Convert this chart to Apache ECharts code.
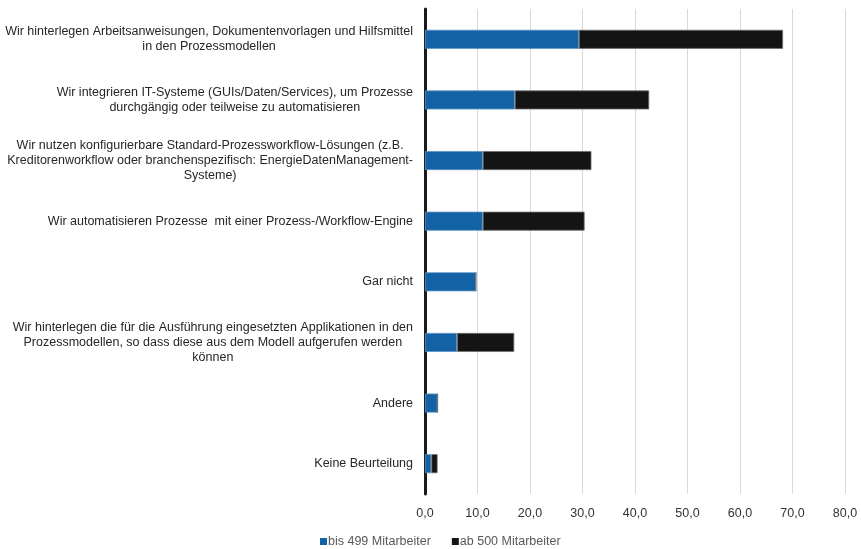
<!DOCTYPE html>
<html>
<head>
<meta charset="utf-8">
<script src="https://cdn.jsdelivr.net/npm/echarts@6/dist/echarts.min.js"></script>
<style>
  html, body { margin: 0; padding: 0; background: #fff; }
  #chart { width: 861px; height: 549px; }
</style>
</head>
<body>
<div id="chart"></div>
<script>
// Antwortkategorien (von oben nach unten)
const categories = [
  'Wir hinterlegen Arbeitsanweisungen, Dokumentenvorlagen und Hilfsmittel\nin den Prozessmodellen',
  'Wir integrieren IT-Systeme (GUIs/Daten/Services), um Prozesse\ndurchgängig oder teilweise zu automatisieren',
  'Wir nutzen konfigurierbare Standard-Prozessworkflow-Lösungen (z.B.\nKreditorenworkflow oder branchenspezifisch: EnergieDatenManagement-\nSysteme)',
  'Wir automatisieren Prozesse  mit einer Prozess-/Workflow-Engine',
  'Gar nicht',
  'Wir hinterlegen die für die Ausführung eingesetzten Applikationen in den\nProzessmodellen, so dass diese aus dem Modell aufgerufen werden\nkönnen',
  'Andere',
  'Keine Beurteilung'
];

const seriesNames = ['bis 499 Mitarbeiter', 'ab 500 Mitarbeiter'];

// Anteile in Prozent
const small = [29.3, 17.1, 11.0, 11.0, 9.7, 6.1, 2.4, 1.2];
const large = [38.9, 25.6, 20.7, 19.4, 0.0, 10.9, 0.0, 1.2];

const axisMin = 0;
const axisMax = 80;
const axisStep = 10;

const chart = echarts.init(document.getElementById('chart'), null, { renderer: 'canvas' });

// Mehrzeilige Beschriftungen: Block rechtsbündig, Zeilen zentriert
function labelFormatter(value) {
  return value.split('\n').map(function (line) { return '{c|' + line + '}'; }).join('\n');
}

chart.setOption({
  animation: false,
  backgroundColor: '#ffffff',
  textStyle: { fontFamily: '"Liberation Sans", Arial, sans-serif' },
  grid: { left: 425, right: 16, top: 9, bottom: 55, containLabel: false },
  legend: {
    data: seriesNames,
    bottom: -4,
    left: 315,
    icon: 'rect',
    itemWidth: 7,
    itemHeight: 7,
    itemGap: 21,
    itemStyle: { borderWidth: 0 },
    textStyle: { color: '#595959', fontSize: 12.5, padding: [0, 0, 0, -4] }
  },
  xAxis: {
    type: 'value',
    min: axisMin,
    max: axisMax,
    interval: axisStep,
    axisLine: { show: false },
    axisTick: { show: false },
    splitLine: { show: true, lineStyle: { color: '#d9d9d9', width: 1 } },
    axisLabel: {
      color: '#333333',
      fontSize: 12.5,
      margin: 13,
      formatter: function (v) { return v.toFixed(1).replace('.', ','); }
    }
  },
  yAxis: {
    type: 'category',
    data: categories,
    inverse: true,
    axisLine: { show: true, lineStyle: { color: '#1a1a1a', width: 3 } },
    axisTick: { show: false },
    axisLabel: {
      color: '#262626',
      fontSize: 12.5,
      margin: 12,
      lineHeight: 15,
      align: 'right',
      formatter: labelFormatter,
      rich: { c: { align: 'center', fontSize: 12.5, lineHeight: 15, color: '#262626' } }
    }
  },
  series: [
    {
      name: seriesNames[0],
      type: 'bar',
      stack: 'total',
      data: small,
      barWidth: 19,
      itemStyle: { color: '#1262a5', borderColor: '#5c93c6', borderWidth: 0.8 }
    },
    {
      name: seriesNames[1],
      type: 'bar',
      stack: 'total',
      data: large,
      barWidth: 19,
      itemStyle: { color: '#141414', borderColor: '#6e6e6e', borderWidth: 0.8 }
    }
  ]
});
</script>
</body>
</html>
